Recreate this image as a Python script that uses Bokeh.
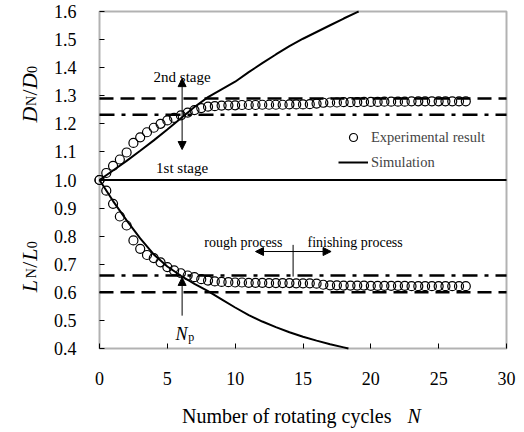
import math
from bokeh.plotting import figure
from bokeh.models import (ColumnDataSource, Label, Arrow, NormalHead, Legend, LegendItem,
                          FixedTicker, PrintfTickFormatter, BoxAnnotation)
from bokeh.embed import file_html
from bokeh.resources import INLINE

# ---------------- data ----------------
exp_N = [i * 0.5 for i in range(55)]  # 0, 0.5, ..., 27
exp_D = [1.000, 1.025, 1.050, 1.073, 1.098, 1.132, 1.152, 1.170, 1.186, 1.200,
         1.212, 1.221, 1.230, 1.240, 1.249, 1.256, 1.261, 1.263, 1.265, 1.266,
         1.266, 1.267, 1.267, 1.267, 1.268, 1.268, 1.268, 1.268, 1.269, 1.269,
         1.269, 1.270, 1.272, 1.275, 1.276, 1.276, 1.277, 1.277, 1.277, 1.278,
         1.278, 1.278, 1.279, 1.279, 1.279, 1.279, 1.280, 1.280, 1.280, 1.280,
         1.280, 1.280, 1.280, 1.280, 1.280]
exp_L = [1.000, 0.962, 0.915, 0.870, 0.838, 0.785, 0.755, 0.733, 0.722, 0.707,
         0.690, 0.678, 0.668, 0.660, 0.654, 0.647, 0.642, 0.639, 0.637, 0.636,
         0.635, 0.635, 0.634, 0.634, 0.634, 0.633, 0.633, 0.633, 0.633, 0.632,
         0.632, 0.632, 0.631, 0.627, 0.625, 0.625, 0.624, 0.624, 0.624, 0.624,
         0.623, 0.623, 0.623, 0.623, 0.623, 0.623, 0.622, 0.622, 0.622, 0.622,
         0.622, 0.622, 0.622, 0.622, 0.622]

# simulation curves (read until they leave the plotting box)
simD_N = [0, 1, 2, 3, 4, 5, 6, 7, 8, 9, 10, 11, 12, 13, 14, 15, 16, 17, 18, 19, 19.1]
simD_V = [1.000, 1.034, 1.068, 1.104, 1.141, 1.180, 1.220, 1.260, 1.295, 1.323,
          1.350, 1.384, 1.416, 1.447, 1.477, 1.503, 1.527, 1.551, 1.575, 1.598, 1.600]
simL_N = [0, 1, 2, 3, 4, 5, 6, 7, 8, 9, 10, 11, 12, 13, 14, 15, 16, 17, 18, 18.35]
simL_V = [1.000, 0.925, 0.856, 0.792, 0.735, 0.692, 0.659, 0.630, 0.604, 0.575,
          0.546, 0.519, 0.496, 0.476, 0.458, 0.442, 0.428, 0.415, 0.404, 0.400]

ref_dash = [1.29, 0.60]      # dashed reference lines
ref_dashdot = [1.232, 0.66]  # dash-dot reference lines

x_ticks = [0, 5, 10, 15, 20, 25, 30]
y_ticks = [0.4, 0.5, 0.6, 0.7, 0.8, 0.9, 1.0, 1.1, 1.2, 1.3, 1.4, 1.5, 1.6]

X0, X1 = 0, 30
Y0, Y1 = 0.4, 1.6

FONT = "Liberation Serif"

# whole canvas is the frame; the axes sit at fixed locations on the data box
px_x = 407 / 30.0
px_y = 337 / 1.2
p = figure(width=524, height=432,
           x_range=(X0 - 99 / px_x, X1 + 18 / px_x),
           y_range=(Y0 - 84 / px_y, Y1 + 11 / px_y),
           output_backend="svg", toolbar_location=None,
           min_border=0)
p.background_fill_color = "white"
p.border_fill_color = "white"
p.outline_line_color = None
p.xgrid.visible = False
p.ygrid.visible = False

for ax in (p.xaxis[0], p.yaxis[0]):
    ax.axis_line_color = None
    ax.major_tick_in = 5
    ax.major_tick_out = 0
    ax.minor_tick_in = 0
    ax.minor_tick_out = 0
    ax.major_tick_line_color = "black"
    ax.major_tick_line_width = 1
    ax.major_label_text_font = FONT
    ax.major_label_text_font_size = "18px"
    ax.major_label_text_color = "black"
    ax.major_label_standoff = 23

p.xaxis[0].fixed_location = Y0
p.yaxis[0].fixed_location = X0
p.xaxis[0].ticker = FixedTicker(ticks=x_ticks)
p.yaxis[0].ticker = FixedTicker(ticks=y_ticks)
p.yaxis[0].formatter = PrintfTickFormatter(format="%.1f")

# plotting box
p.add_layout(BoxAnnotation(left=X0, right=X1, bottom=Y0, top=Y1, fill_color=None,
                           line_color="black", line_width=2, level="overlay"))

# reference lines
p.segment(x0=[X0] * 2, x1=[X1] * 2, y0=ref_dash, y1=ref_dash,
          line_color="black", line_width=2.5, line_dash="14 7")
p.segment(x0=[X0] * 2, x1=[X1] * 2, y0=ref_dashdot, y1=ref_dashdot,
          line_color="black", line_width=2.5, line_dash="15 7 4 7")
p.segment(x0=[X0], x1=[X1], y0=[1.0], y1=[1.0], line_color="black", line_width=2)

# simulation
r_simD = p.line(simD_N, simD_V, line_color="black", line_width=2)
p.line(simL_N, simL_V, line_color="black", line_width=2)

# experiment
exp_src = ColumnDataSource(dict(N=exp_N, D=exp_D, L=exp_L))
r_expD = p.scatter("N", "D", source=exp_src, marker="circle", size=9,
                   fill_color=None, line_color="black", line_width=1.2)
p.scatter("N", "L", source=exp_src, marker="circle", size=9,
          fill_color=None, line_color="black", line_width=1.2)

# legend
legend = Legend(items=[LegendItem(label="Experimental result", renderers=[r_expD]),
                       LegendItem(label="Simulation", renderers=[r_simD])],
                location=(338, 260), orientation="vertical")
legend.label_text_font = FONT
legend.label_text_font_size = "14.5px"
legend.glyph_width = 30
legend.glyph_height = 20
legend.label_height = 20
legend.label_standoff = 3
legend.spacing = 5
legend.padding = 0
legend.margin = 0
legend.border_line_color = None
legend.background_fill_alpha = 0
p.add_layout(legend)


def txt(x, y, s, size="15px", align="center", style="normal", baseline="alphabetic",
        angle=0.0, xo=0, yo=0):
    p.add_layout(Label(x=x, y=y, text=s, text_font=FONT, text_font_size=size,
                       text_align=align, text_baseline=baseline, text_font_style=style,
                       text_color="black", angle=angle, x_offset=xo, y_offset=yo))


def head():
    return NormalHead(size=8, fill_color="black", line_color="black", line_width=1)

# stage annotation
p.add_layout(Arrow(start=head(), end=head(), x_start=6.09, y_start=1.1085,
                   x_end=6.09, y_end=1.361, line_color="black", line_width=1))
txt(6.09, 1.3685, "2nd stage")
txt(6.09, 1.041, "1st stage")

# process annotation
p.add_layout(Arrow(start=head(), end=head(), x_start=11.5, y_start=0.7453,
                   x_end=17.07, y_end=0.7453, line_color="black", line_width=1))
p.add_layout(Arrow(start=None, end=None, x_start=14.27, y_start=0.769,
                   x_end=14.27, y_end=0.656, line_color="black", line_width=1))
txt(13.49, 0.7763, "rough process", size="14px", align="right")
txt(15.33, 0.7763, "finishing process", size="14px", align="left")

# Np annotation
p.add_layout(Arrow(start=None, end=head(), x_start=6.09, y_start=0.517,
                   x_end=6.09, y_end=0.653, line_color="black", line_width=1))
txt(5.6, 0.4533, "N", size="18px", align="left", style="italic")
txt(6.55, 0.4533, "p", size="12px", align="left", yo=-3)

# x-axis title
txt(6.09, 0.1614, "Number of rotating cycles", size="20px", align="left")
txt(22.7, 0.1614, "N", size="20px", align="left", style="italic")

# y-axis titles (rotated, composed of italic letters and subscripts)
A = math.pi / 2
def ylabel(y0, letter, offs):
    x0 = -5.14
    txt(x0, y0, letter, size="22px", align="left", style="italic", angle=A, yo=offs[0])
    txt(x0, y0, "N", size="14px", align="left", angle=A, yo=offs[1], xo=2)
    txt(x0, y0, "/", size="22px", align="left", angle=A, yo=offs[2])
    txt(x0, y0, letter, size="22px", align="left", style="italic", angle=A, yo=offs[3])
    txt(x0, y0, "0", size="14px", align="left", angle=A, yo=offs[4], xo=2)

ylabel(1.2047, "D", [0, 16.5, 27, 33.5, 49.5])
ylabel(0.6004, "L", [0, 14, 24.5, 31.5, 44])

open("out.html", "w").write(file_html(p, INLINE))
